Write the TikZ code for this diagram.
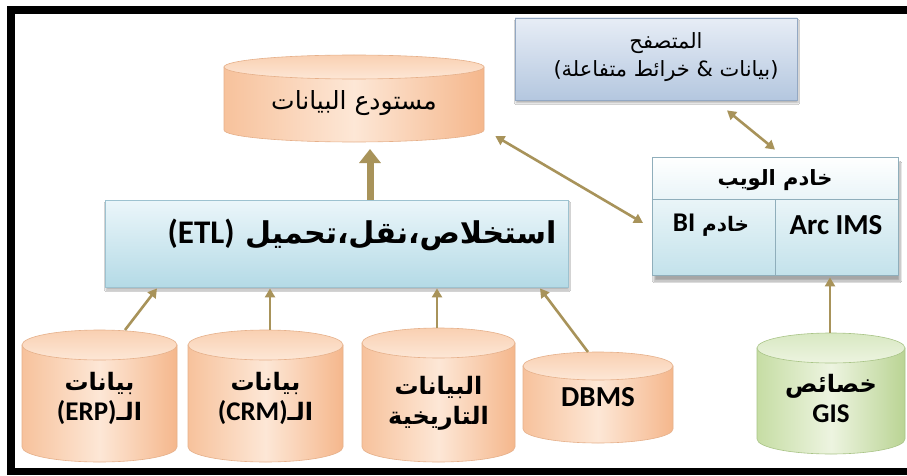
\documentclass[tikz,border=0pt]{standalone}
\usepackage{fontspec}
\usetikzlibrary{arrows.meta,shadows.blur,calc}
\TeXXeTstate=1
\newfontfamily\arab[Script=Arabic]{DejaVu Sans}
\newfontfamily\latn{Carlito}

% palette
\definecolor{orL}{HTML}{F7C29C}
\definecolor{orM}{HTML}{FDE7D6}
\definecolor{orR}{HTML}{F5B78C}
\definecolor{orT}{HTML}{F9D0B2}
\definecolor{orD}{HTML}{E6B08A}
\definecolor{grL}{HTML}{C6DDA4}
\definecolor{grM}{HTML}{EDF4E0}
\definecolor{grR}{HTML}{BAD494}
\definecolor{grT}{HTML}{D8E8C2}
\definecolor{grD}{HTML}{A9C487}
\definecolor{etlT}{HTML}{EBF6FA}
\definecolor{etlB}{HTML}{B4DAE6}
\definecolor{etlD}{HTML}{9DC2D0}
\definecolor{webB}{HTML}{C3E2EB}
\definecolor{webD}{HTML}{8FAEBB}
\definecolor{brT}{HTML}{E7EDF6}
\definecolor{brB}{HTML}{B4C7DF}
\definecolor{brD}{HTML}{93A8C3}
\definecolor{arrowc}{HTML}{A8935A}

\tikzset{
  boxshadow/.style={blur shadow={shadow xshift=1pt, shadow yshift=-3pt, shadow blur steps=6, shadow opacity=30}},
  etlbox/.style={draw=etlD, line width=0.8pt, top color=etlT, bottom color=etlB, inner sep=0, boxshadow},
  webbox/.style={draw=webD, line width=0.8pt, top color=white, bottom color=webB, inner sep=0,
    blur shadow={shadow xshift=2pt, shadow yshift=-6pt, shadow blur steps=8, shadow opacity=35}},
  browserbox/.style={draw=brD, line width=0.8pt, top color=brT, bottom color=brB, inner sep=0, boxshadow},
  lbl/.style={inner sep=0, align=center, text=black},
  cylnode/.style={inner sep=0, outer sep=0},
  conn/.style={draw=arrowc, line width=2.6pt, -{Triangle[length=9pt,width=10pt]}},
  dconn/.style={draw=arrowc, line width=2.6pt, {Triangle[length=9pt,width=10pt]}-{Triangle[length=9pt,width=10pt]}},
  bigconn/.style={draw=arrowc, line width=7pt, -{Triangle[length=14pt,width=21pt]}},
}

% cylinder: name, left x, right x, top y, bottom y, ellipse half height, colour prefix
\newcommand\cylshape[7]{%
  \pgfmathsetmacro\cylcx{(#2+#3)/2}%
  \pgfmathsetmacro\cylrx{(#3-#2)/2}%
  \pgfmathsetmacro\cylyt{#4-#6}%
  \pgfmathsetmacro\cylyb{#5+#6}%
  \shade[left color=#7L, right color=#7R, middle color=#7M, draw=#7D, line width=0.6pt]
    (#2,\cylyt) -- (#2,\cylyb) arc[start angle=180, end angle=360, x radius=\cylrx, y radius=#6]
    -- (#3,\cylyt) -- cycle;
  \shade[top color=#7T, bottom color=#7M, draw=#7D, line width=0.6pt]
    (\cylcx,\cylyt) ellipse[x radius=\cylrx, y radius=#6];
  \node[cylnode, minimum width={#3-#2}, minimum height={#4-#5}] (#1) at (\cylcx,{(#4+#5)/2}) {};
}

\begin{document}
\begin{tikzpicture}[x=1pt,y=1pt]
\useasboundingbox (0,0) rectangle (907,475);
\fill[white] (0,0) rectangle (907,475);

% outer frame
\fill[black] (7,0) rectangle (15,469);
\fill[black] (7,461) rectangle (907,469);
\fill[black] (7,0) rectangle (907,7);

% browser
\node[browserbox, minimum width=282, minimum height=82] (browser) at (656,416) {};
\node[lbl, font={\arab\fontsize{21}{28}\selectfont}] (browsertext) at (666,418)
  {\beginR المتصفح\endR\\\beginR (بيانات \& خرائط متفاعلة)\endR};

% data warehouse
\cylshape{wh}{224}{484}{420}{333}{12}{or}
\node[lbl, font={\arab\fontsize{25}{28}\selectfont}] (whtext) at (354,372) {\beginR مستودع البيانات\endR};

% ETL
\node[etlbox, minimum width=463, minimum height=87] (etl) at (336.5,231.5) {};
\node[lbl, font={\arab\bfseries\fontsize{30}{34}\selectfont}] (etltext) at (362,240)
  {\beginR استخلاص،نقل،تحميل \beginL{\latn\bfseries\fontsize{33}{34}\selectfont(ETL)}\endL\endR};

% web server
\node[webbox, minimum width=246, minimum height=118] (web) at (775,259) {};
\draw[webD, line width=0.6pt] ($(web.north west)+(0,-43)$) -- ($(web.north east)+(0,-43)$);
\draw[webD, line width=0.6pt] (web.south) -- ($(web.north)+(0,-43)$);
\node[lbl, font={\arab\bfseries\fontsize{21}{24}\selectfont}] (webhead) at ($(web.north)+(0,-23)$) {\beginR خادم الويب\endR};
\node[lbl, font={\arab\bfseries\fontsize{20}{24}\selectfont}] (bi) at (711,250)
  {\beginR خادم \beginL{\latn\fontsize{27}{28}\selectfont BI}\endL\endR};
\node[lbl, font={\latn\bfseries\fontsize{29}{30}\selectfont}] (arcims) at (836,250) {Arc IMS};

% source databases
\cylshape{erp}{22}{177}{145}{13}{15}{or}
\node[lbl, font={\arab\bfseries\fontsize{24}{30}\selectfont}] (erptext) at (99.5,77)
  {\beginR بيانات\endR\\\beginR الـ\beginL{\latn\fontsize{27}{30}\selectfont(ERP)}\endL\endR};
\cylshape{crm}{188}{343}{145}{13}{15}{or}
\node[lbl, font={\arab\bfseries\fontsize{24}{30}\selectfont}] (crmtext) at (265.5,77)
  {\beginR بيانات\endR\\\beginR الـ\beginL{\latn\fontsize{27}{30}\selectfont(CRM)}\endL\endR};
\cylshape{hist}{362}{515}{147}{13}{15}{or}
\node[lbl, font={\arab\bfseries\fontsize{24}{30}\selectfont}] (histtext) at (438.5,72)
  {\beginR البيانات\endR\\\beginR التاريخية\endR};
\cylshape{dbms}{523}{673}{123}{32}{14}{or}
\node[lbl, font={\latn\bfseries\fontsize{29}{30}\selectfont}] (dbmstext) at (598,78) {DBMS};
\cylshape{gis}{757}{905}{142}{21}{15}{gr}
\node[lbl, font={\arab\bfseries\fontsize{24}{30}\selectfont}] (gistext) at (831,77)
  {\beginR خصائص\endR\\{\latn\fontsize{27}{30}\selectfont GIS}};

% connectors
\draw[bigconn, shorten >=7pt] ([xshift=33.5pt]etl.north) -- ([xshift=16pt]wh.south);
\draw[dconn, shorten <=12pt, shorten >=10pt] ([xshift=131pt,yshift=12pt]wh.south) -- ([yshift=-12pt]web.west);
\draw[dconn] ([xshift=71pt,yshift=-10pt]browser.south) -- ([yshift=7pt]web.north);
\draw[conn] ([xshift=-1pt]gis.north) -- ([xshift=55pt,yshift=-2pt]web.south);
\draw[conn] ([xshift=25.5pt]erp.north) -- ([xshift=-179.5pt,yshift=-1pt]etl.south);
\draw[conn] ([xshift=4.5pt]crm.north) -- ([xshift=-66.5pt,yshift=-1pt]etl.south);
\draw[conn] ([xshift=-1.5pt]hist.north) -- ([xshift=100.5pt,yshift=-1pt]etl.south);
\draw[conn] ([xshift=-10pt]dbms.north) -- ([xshift=203.5pt,yshift=-1pt]etl.south);
\end{tikzpicture}
\end{document}
